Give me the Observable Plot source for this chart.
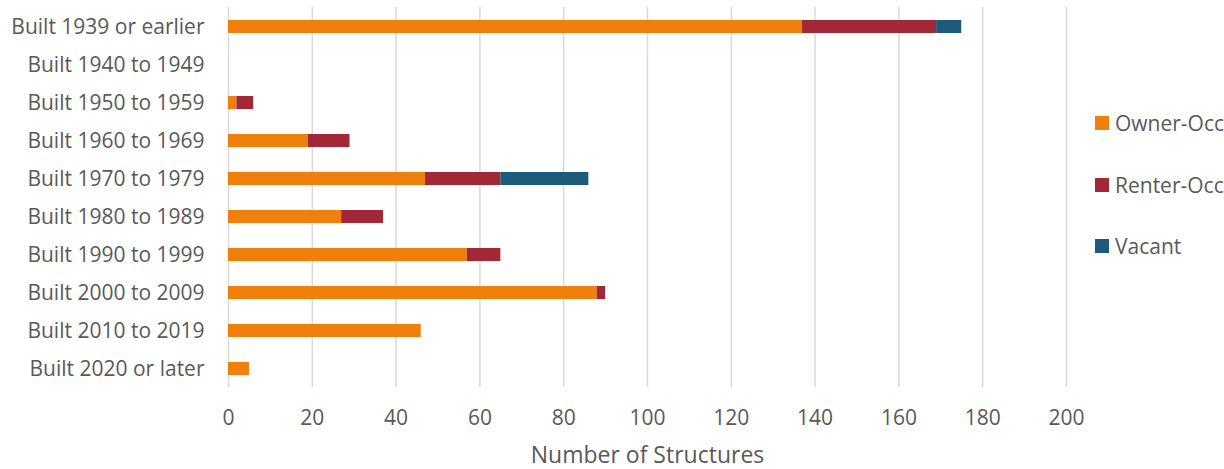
<!DOCTYPE html>
<html>
<head>
<meta charset="utf-8">
<script src="https://cdn.jsdelivr.net/npm/d3@7"></script>
<script src="https://cdn.jsdelivr.net/npm/@observablehq/plot@0.6"></script>
<style>
  body { margin: 0; background: #fff; }
  #chart { position: relative; width: 1224px; height: 469px; font-family: "Open Sans", sans-serif; color: #595959; }
  #legend { position: absolute; left: 1095px; top: 111px; font-size: 21px; }
  #legend .item { display: flex; align-items: center; height: 24px; margin-bottom: 37.5px; white-space: nowrap; }
  #legend .swatch { width: 14px; height: 14px; margin-right: 6px; flex: none; }
</style>
</head>
<body>
<div id="chart"><div id="legend"></div></div>
<script>
// Year-built categories, top to bottom
const periods = [
  "Built 1939 or earlier",
  "Built 1940 to 1949",
  "Built 1950 to 1959",
  "Built 1960 to 1969",
  "Built 1970 to 1979",
  "Built 1980 to 1989",
  "Built 1990 to 1999",
  "Built 2000 to 2009",
  "Built 2010 to 2019",
  "Built 2020 or later"
];

// Structures by occupancy, one value per period
const ownerOcc  = [137, 0, 2, 19, 47, 27, 57, 88, 46, 5];
const renterOcc = [32, 0, 4, 10, 18, 10, 8, 2, 0, 0];
const vacant    = [6, 0, 0, 0, 21, 0, 0, 0, 0, 0];

const seriesNames = ["Owner-Occ", "Renter-Occ", "Vacant"];
const seriesColors = ["#F0800C", "#A22838", "#1E5A7E"];
const xTicks = [0, 20, 40, 60, 80, 100, 120, 140, 160, 180, 200];

const seriesValues = [ownerOcc, renterOcc, vacant];
const rows = [];
periods.forEach((p, i) => {
  seriesNames.forEach((s, j) => {
    rows.push({period: p, series: s, value: seriesValues[j][i]});
  });
});

const textColor = "#595959";
const fontSize = 21;

const chart = Plot.plot({
  width: 1224,
  height: 469,
  marginTop: 7,
  marginBottom: 82,
  marginLeft: 228,
  marginRight: 158,
  style: {fontFamily: "'Open Sans', sans-serif", fontSize: fontSize + "px", color: textColor, background: "#fff"},
  x: {domain: [0, 200]},
  y: {domain: periods, paddingInner: 0.66, paddingOuter: 0.33},
  color: {domain: seriesNames, range: seriesColors},
  marks: [
    Plot.gridX(xTicks, {stroke: "#d9d9d9", strokeOpacity: 1, strokeWidth: 1.5}),
    Plot.barX(rows, {x: "value", y: "period", fill: "series", order: seriesNames}),
    // tick labels
    Plot.axisX({ticks: xTicks, tickSize: 0, tickPadding: 23, fontSize: fontSize, label: null}),
    // axis title, slightly larger than the tick labels
    Plot.axisX({
      ticks: [], tickSize: 0, fontSize: 23,
      label: "Number of Structures", labelAnchor: "center", labelArrow: "none", labelOffset: 75
    }),
    Plot.axisY({tickSize: 0, tickPadding: 24, label: null, fontSize: fontSize})
  ]
});

const container = document.getElementById("chart");
container.insertBefore(chart, container.firstChild);

// Legend to the right of the plot
const legend = document.getElementById("legend");
seriesNames.forEach((name, i) => {
  const item = document.createElement("div");
  item.className = "item";
  const sw = document.createElement("span");
  sw.className = "swatch";
  sw.style.background = seriesColors[i];
  const label = document.createElement("span");
  label.textContent = name;
  item.appendChild(sw);
  item.appendChild(label);
  legend.appendChild(item);
});
</script>
</body>
</html>
